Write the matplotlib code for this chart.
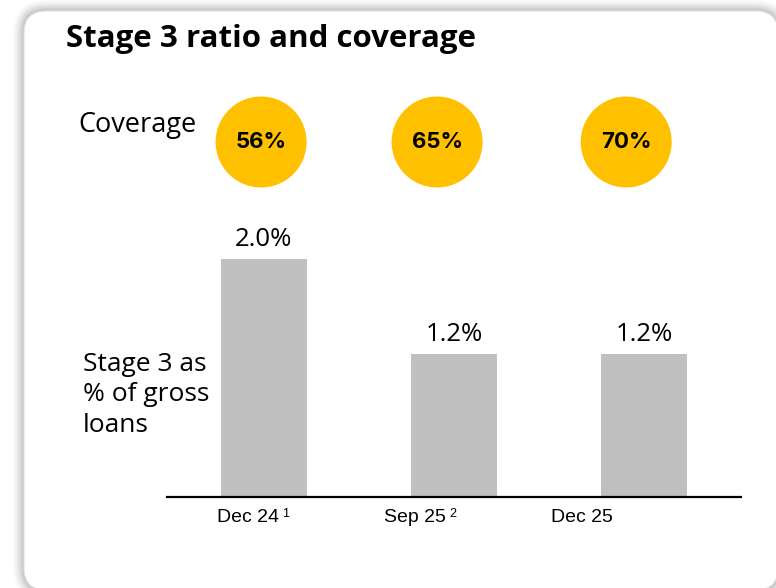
import matplotlib
matplotlib.use("Agg")
import matplotlib.pyplot as plt
from matplotlib.patches import FancyBboxPatch

# data
categories = ["Dec 24", "Sep 25", "Dec 25"]
footnotes = ["1", "2", ""]
stage3_ratio = [2.0, 1.2, 1.2]
coverage = [56, 65, 70]

W, H = 776, 588
BAR_COLOR = "#c0c0c0"
GOLD = "#ffc000"
FONT = "Open Sans"


def fx(px):
    return px / W


def fy(py):
    return 1 - py / H


fig = plt.figure(figsize=(W / 100, H / 100), dpi=100)
fig.patch.set_facecolor("white")
inch = fig.dpi_scale_trans

# card with soft shadow (positions in inches, pixel/100)
left, top, right, bottom = 24, 11, 778, 590
for i, a in enumerate([0.02, 0.03, 0.04, 0.05, 0.06, 0.08]):
    g = 11 - i * 2
    fig.patches.append(FancyBboxPatch(
        ((left - g) / 100, (H - bottom - g) / 100),
        (right - left + 2 * g) / 100, (bottom - top + 2 * g) / 100,
        boxstyle=f"round,pad=0,rounding_size={(22 + g) / 100}",
        transform=inch, facecolor="black", edgecolor="none",
        alpha=a, zorder=-3))
fig.patches.append(FancyBboxPatch(
    (left / 100, (H - bottom) / 100),
    (right - left) / 100, (bottom - top) / 100,
    boxstyle="round,pad=0,rounding_size=0.22",
    transform=inch, facecolor="white", edgecolor="#e2e2e2",
    linewidth=0.8, zorder=-2))

fig.text(fx(66), fy(47), "Stage 3 ratio and coverage", fontsize=22.5,
         fontweight="bold", family=FONT, va="baseline", ha="left")
fig.text(fx(78), fy(132), "Coverage", fontsize=19.5, family=FONT,
         va="baseline", ha="left")
fig.text(fx(83), fy(432), "Stage 3 as\n% of gross\nloans", fontsize=19,
         family=FONT, va="baseline", ha="left", linespacing=1.3)

# bar axes
x = list(range(len(categories)))
ax = fig.add_axes([fx(167), fy(497), fx(741 - 167), fy(200) - fy(497)])
ax.set_facecolor("none")
bars = ax.bar(x, stage3_ratio, width=0.455, color=BAR_COLOR)
ax.bar_label(bars, labels=[f"{v:.1f}%" for v in stage3_ratio], padding=5,
             fontsize=18.5, family=FONT)
ax.set_xlim(-0.51, 2.51)
ax.set_ylim(0, 2.496)
for s in ["top", "right", "left"]:
    ax.spines[s].set_visible(False)
ax.spines["bottom"].set_linewidth(1.6)
ax.set_yticks([])
ax.set_xticks([])

# category labels with footnote markers
label_x = [-0.084, 0.793, 1.674]
for lx, cat, note in zip(label_x, categories, footnotes):
    t = ax.annotate(cat, xy=(lx, 0), xycoords=ax.get_xaxis_transform(),
                    xytext=(0, -9), textcoords="offset points",
                    ha="center", va="top", fontsize=14,
                    family="Liberation Sans")
    if note:
        ax.annotate(note, xy=(1, 1), xycoords=t, xytext=(2.5, 1),
                    textcoords="offset points", ha="left", va="top",
                    fontsize=9, family="Liberation Sans")

# coverage circles
circle_x = [-0.015, 0.911, 1.906]
cax = fig.add_axes([fx(167), fy(187), fx(741 - 167), fy(97) - fy(187)])
cax.set_xlim(ax.get_xlim())
cax.set_ylim(0, 1)
cax.axis("off")
cax.scatter(circle_x, [0.5] * len(coverage), s=65.5 ** 2, color=GOLD,
            edgecolors="none", clip_on=False)
for cx, v in zip(circle_x, coverage):
    cax.text(cx, 0.5, f"{v}%", ha="center", va="center", fontsize=16,
             fontweight="bold", family="Inter")

fig.savefig("out.png", dpi=100)
